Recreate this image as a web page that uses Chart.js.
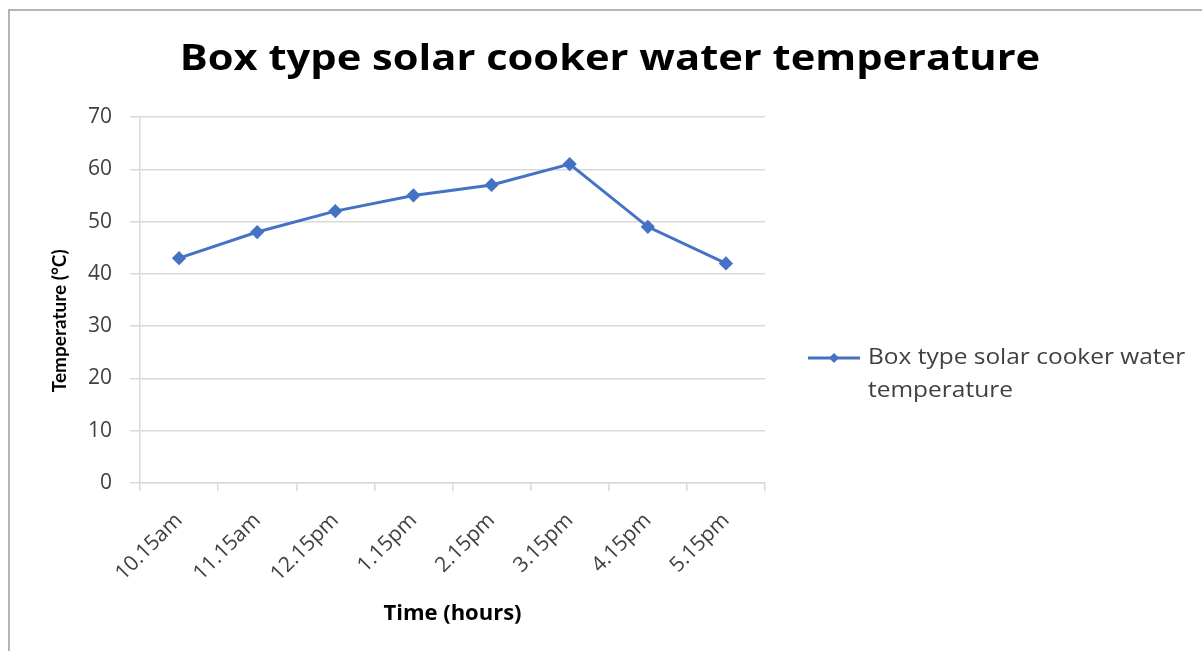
<!DOCTYPE html>
<html>
<head>
<meta charset="utf-8">
<script src="https://cdn.jsdelivr.net/npm/chart.js@4.4.1/dist/chart.umd.min.js"></script>
<style>
  html, body { margin: 0; padding: 0; background: #fff; }
  #frame {
    position: absolute; left: 8px; top: 9px; width: 1194px; height: 642px;
    border-top: 2px solid #b5b5b5; border-left: 2px solid #b5b5b5;
    pointer-events: none;
  }
  #chartcontainer { position: absolute; left: 0; top: 0; }
</style>
</head>
<body>
<div id="frame"></div>
<canvas id="chartcontainer" width="1202" height="651"></canvas>
<script>
// data
var times = ["10.15am", "11.15am", "12.15pm", "1.15pm", "2.15pm", "3.15pm", "4.15pm", "5.15pm"];
var waterTemp = [43, 48, 52, 55, 57, 61, 49, 42];
var yTicks = [0, 10, 20, 30, 40, 50, 60, 70];

var chartTitle = "Box type solar cooker water temperature";
var seriesLabel = "Box type solar cooker water temperature";
var seriesLabelLines = ["Box type solar cooker water", "temperature"];

var blue = "#4472C4";
var gridGrey = "#d9d9d9";
var fontName = "'Open Sans', sans-serif";

// title + legend drawn by hand (legend wraps on two lines like excel)
// the source picture is stretched sideways, so the text is widened a bit too
var excelBits = {
    id: "excelBits",
    afterDraw: function(chart) {
        var ctx = chart.ctx;
        ctx.save();
        ctx.fillStyle = "#000";
        ctx.font = "bold 35px " + fontName;
        ctx.textAlign = "center";
        ctx.textBaseline = "middle";
        ctx.translate(610, 60);
        ctx.scale(1.19, 1);
        ctx.fillText(chartTitle, 0, 0);
        ctx.restore();

        ctx.save();
        // legend sample
        ctx.strokeStyle = blue;
        ctx.lineWidth = 3;
        ctx.beginPath();
        ctx.moveTo(808, 358);
        ctx.lineTo(860, 358);
        ctx.stroke();
        ctx.fillStyle = blue;
        ctx.beginPath();
        ctx.moveTo(834, 353);
        ctx.lineTo(839, 358);
        ctx.lineTo(834, 363);
        ctx.lineTo(829, 358);
        ctx.closePath();
        ctx.fill();

        ctx.fillStyle = "#404040";
        ctx.font = "21px " + fontName;
        ctx.textAlign = "left";
        ctx.textBaseline = "middle";
        ctx.translate(868, 358);
        ctx.scale(1.165, 1);
        for (var i = 0; i < seriesLabelLines.length; i++) {
            ctx.fillText(seriesLabelLines[i], 0, i * 33);
        }
        ctx.restore();
    }
};

var ctx = document.getElementById("chartcontainer").getContext("2d");
var chart = new Chart(ctx, {
    type: "line",
    data: {
        labels: times,
        datasets: [{
            label: seriesLabel,
            data: waterTemp,
            borderColor: blue,
            backgroundColor: blue,
            borderWidth: 3,
            pointStyle: "rectRot",
            pointRadius: 5,
            pointHoverRadius: 5,
            tension: 0,
            fill: false
        }]
    },
    options: {
        responsive: false,
        animation: false,
        layout: {
            padding: { left: 40, right: 437, top: 117, bottom: 0 }
        },
        plugins: {
            legend: { display: false },
            title: { display: false },
            tooltip: { enabled: false }
        },
        scales: {
            x: {
                offset: true,
                grid: {
                    offset: true,
                    drawOnChartArea: false,
                    drawTicks: true,
                    tickLength: 8,
                    color: gridGrey,
                    lineWidth: 1.5
                },
                border: { color: gridGrey, width: 1.5 },
                ticks: {
                    color: "#404040",
                    font: { family: fontName, size: 21 },
                    minRotation: 45,
                    maxRotation: 45,
                    padding: 17
                },
                title: {
                    display: true,
                    text: "Time (hours)",
                    color: "#000",
                    font: { family: fontName, size: 22, weight: "bold" },
                    padding: { top: 4, bottom: 24 }
                },
                afterFit: function(scale) { scale.height = 168; }
            },
            y: {
                min: 0,
                max: 70,
                afterBuildTicks: function(scale) {
                    scale.ticks = yTicks.map(function(v) { return { value: v }; });
                },
                grid: {
                    color: gridGrey,
                    lineWidth: 1.5,
                    drawTicks: true,
                    tickLength: 10
                },
                border: { color: gridGrey, width: 1.5 },
                ticks: {
                    color: "#404040",
                    font: { family: fontName, size: 21 },
                    padding: 18
                },
                title: {
                    display: true,
                    text: "Temperature (°C)         ",
                    color: "#000",
                    font: { family: "Lato, sans-serif", size: 19, weight: "bold" },
                    padding: { top: 8, bottom: 4 }
                },
                afterFit: function(scale) { scale.width = 100; }
            }
        }
    },
    plugins: [excelBits]
});
</script>
</body>
</html>
